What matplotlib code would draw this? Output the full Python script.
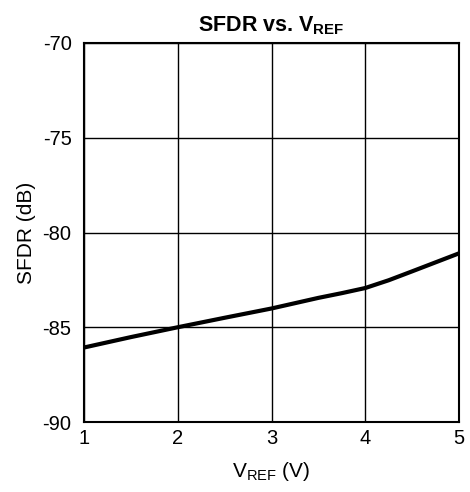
import matplotlib
matplotlib.use('Agg')
import matplotlib.pyplot as plt

plt.rcParams['font.family'] = ['Liberation Sans', 'DejaVu Sans']
plt.rcParams['axes.unicode_minus'] = False

# SFDR vs reference voltage
vref = [1.0, 1.5, 2.0, 2.5, 3.0, 3.5, 3.75, 4.0, 4.25, 4.5, 5.0]
sfdr = [-86.07, -85.52, -85.0, -84.5, -84.01, -83.45, -83.2, -82.93, -82.52, -82.05, -81.1]

x_ticks = [1, 2, 3, 4, 5]
y_ticks = [-90, -85, -80, -75, -70]

fig = plt.figure(figsize=(4.7, 4.92), dpi=100)
ax = fig.add_axes([84 / 470, 1 - 422 / 492, 375 / 470, 379 / 492])

ax.plot(vref, sfdr, color='black', linewidth=3.0, solid_capstyle='butt')

ax.set_xlim(1, 5)
ax.set_ylim(-90, -70)
ax.set_xticks(x_ticks)
ax.set_yticks(y_ticks)
ax.grid(True, color='black', linewidth=1.0)
ax.tick_params(length=0, labelsize=14.5)
ax.tick_params(axis='x', pad=5)
ax.tick_params(axis='y', pad=9)
for s in ax.spines.values():
    s.set_linewidth(1.5)

ax.set_title(r'SFDR vs. V$_{\mathregular{REF}}$', fontsize=15.5, fontweight='bold', pad=8)
ax.set_xlabel(r'V$_{\mathregular{REF}}$ (V)', fontsize=15, labelpad=9)
ax.set_ylabel('SFDR (dB)', fontsize=15, labelpad=5)

fig.savefig('out.png', dpi=100)
